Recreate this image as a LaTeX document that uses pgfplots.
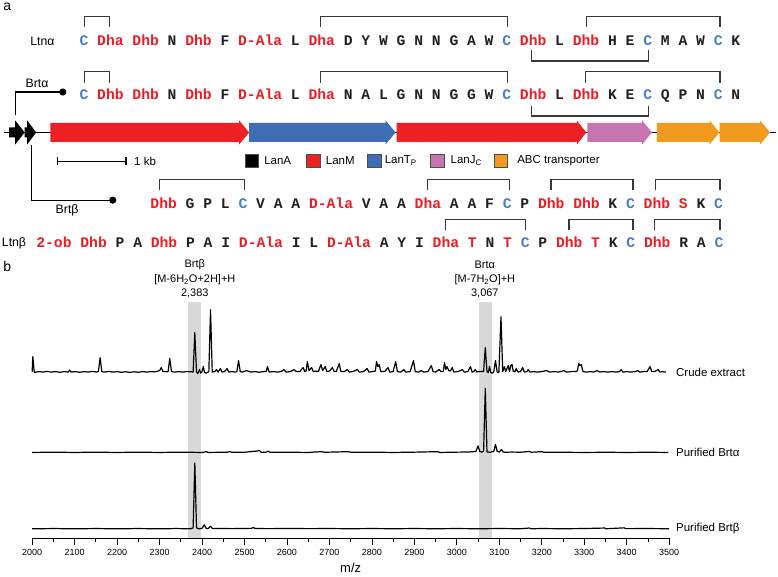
\documentclass[border=0pt]{standalone}
\usepackage{pgfplots}
\pgfplotsset{compat=1.18}
\usepackage{fontspec}
\setmainfont{Liberation Sans}
\setmonofont{Liberation Mono}
\definecolor{seqred}{HTML}{ED1C24}
\definecolor{seqblue}{HTML}{4A7CC9}
\definecolor{txt}{HTML}{231F20}
\definecolor{genered}{HTML}{ED2024}
\definecolor{geneblue}{HTML}{3F6DB5}
\definecolor{genepink}{HTML}{C675B1}
\definecolor{geneorange}{HTML}{F29A1E}
\definecolor{band}{HTML}{D9D9D9}
\newcommand{\rd}[1]{\textcolor{seqred}{#1}}
\newcommand{\bl}[1]{\textcolor{seqblue}{#1}}
\newcommand{\seqfont}{\fontsize{14.7}{16}\ttfamily\bfseries\color{txt}}
\newcommand{\lf}{\fontsize{11.5}{13.8}\selectfont}
\newcommand{\smf}{\fontsize{11}{13}\selectfont}
\newcommand{\nmf}{\fontsize{12.3}{14}\selectfont}
\tikzset{brk/.style={line width=1.25pt, color=black!78, line join=miter}}
\newcommand{\brk}[4]{\draw[brk] (axis cs:#1,#4) -- (axis cs:#1,#3) -- (axis cs:#2,#3) -- (axis cs:#2,#4);}
\begin{document}
\begin{tikzpicture}
\begin{axis}[hide axis, scale only axis, x=1pt, y=1pt, xmin=0, xmax=778, ymin=0, ymax=575,
  y dir=reverse, clip=false]
\path (rel axis cs:0,0) rectangle (rel axis cs:1,1);
\coordinate (bsw) at (axis cs:31,537);
% panel letters
\node[font=\fontsize{14}{16}\selectfont] at (axis cs:6,5) {a};
\node[font=\fontsize{14}{16}\selectfont] at (axis cs:6,265) {b};
% genome line
\draw[line width=1pt] (axis cs:3,130.5) -- (axis cs:776,130.5);
% genes
\addplot[fill=black, draw=none] coordinates {(8,125.5) (14,125.5) (14,118.5) (23.5,130.5) (14,142.5) (14,135.5) (8,135.5)} -- cycle;
\addplot[fill=black, draw=none] coordinates {(23.5,125.5) (26,125.5) (26,118.5) (35,130.5) (26,142.5) (26,135.5) (23.5,135.5)} -- cycle;
\addplot[fill=genered, draw=none] coordinates {(49.3,121) (238.3,121) (238.3,118.5) (248.3,130.5) (238.3,142.5) (238.3,140) (49.3,140)} -- cycle;
\addplot[fill=geneblue, draw=none] coordinates {(248.3,121) (385,121) (385,118.5) (395,130.5) (385,142.5) (385,140) (248.3,140)} -- cycle;
\addplot[fill=genered, draw=none] coordinates {(396,121) (576.5,121) (576.5,118.5) (586,130.5) (576.5,142.5) (576.5,140) (396,140)} -- cycle;
\addplot[fill=genepink, draw=none] coordinates {(587,121) (642,121) (642,118.5) (651.7,130.5) (642,142.5) (642,140) (587,140)} -- cycle;
\addplot[fill=geneorange, draw=none] coordinates {(656.7,121) (709.5,121) (709.5,118.5) (719.3,130.5) (709.5,142.5) (709.5,140) (656.7,140)} -- cycle;
\addplot[fill=geneorange, draw=none] coordinates {(719.5,121) (760,121) (760,118.5) (770,130.5) (760,142.5) (760,140) (719.5,140)} -- cycle;
% promoters
\draw[line width=1.1pt] (axis cs:14,113.5) -- (axis cs:14,90) -- (axis cs:61,90);
\fill (axis cs:61.7,90) circle (3.6pt);
\draw[line width=1.1pt] (axis cs:30,143.5) -- (axis cs:30,198.3) -- (axis cs:111,198.3);
\fill (axis cs:111.7,198.3) circle (3.6pt);
\node[font=\nmf] at (axis cs:35.8,81.5) {Brtα};
\node[font=\nmf] at (axis cs:66,208.5) {Brtβ};
\node[font=\nmf, anchor=west, inner sep=0pt] at (axis cs:29,39) {Ltnα};
\node[font=\nmf, anchor=west, inner sep=0pt] at (axis cs:0.5,241.7) {Ltnβ};
% scale bar
\draw[line width=1.1pt] (axis cs:56,159.3) -- (axis cs:125,159.3);
\draw[line width=1.1pt] (axis cs:56,155) -- (axis cs:56,163.5);
\draw[line width=1.1pt] (axis cs:125,155) -- (axis cs:125,163.5);
\node[font=\lf, anchor=west, inner sep=0pt] at (axis cs:133,159.3) {1 kb};
% legend
\filldraw[fill=black, draw=black!70, line width=0.6pt] (axis cs:244,152) rectangle (axis cs:257.3,165.3);
\filldraw[fill=genered, draw=black!70, line width=0.6pt] (axis cs:306,152) rectangle (axis cs:319.3,165.3);
\filldraw[fill=geneblue, draw=black!70, line width=0.6pt] (axis cs:367,152) rectangle (axis cs:380.3,165.3);
\filldraw[fill=genepink, draw=black!70, line width=0.6pt] (axis cs:430,152) rectangle (axis cs:443.3,165.3);
\filldraw[fill=geneorange, draw=black!70, line width=0.6pt] (axis cs:493.5,152) rectangle (axis cs:506.8,165.3);
\node[font=\lf, anchor=west, inner sep=0pt] at (axis cs:263.3,158.6) {LanA};
\node[font=\lf, anchor=west, inner sep=0pt] at (axis cs:325,158.6) {LanM};
\node[font=\lf, anchor=west, inner sep=0pt] at (axis cs:384,158.6) {LanT\textsubscript{P}};
\node[font=\lf, anchor=west, inner sep=0pt] at (axis cs:450,158.6) {LanJ\textsubscript{C}};
\node[font=\lf, anchor=west, inner sep=0pt] at (axis cs:516.7,158.6) {ABC transporter};
% sequences
\node[anchor=base west, inner sep=0pt, font=\seqfont] at (axis cs:78.3,43.2) {\bl{C} \rd{Dha} \rd{Dhb} N \rd{Dhb} F \rd{D-Ala} L \rd{Dha} D Y W G N N G A W \bl{C} \rd{Dhb} L \rd{Dhb} H E \bl{C} M A W \bl{C} K};
\node[anchor=base west, inner sep=0pt, font=\seqfont] at (axis cs:78.3,97.2) {\bl{C} \rd{Dhb} \rd{Dhb} N \rd{Dhb} F \rd{D-Ala} L \rd{Dha} N A L G N N G G W \bl{C} \rd{Dhb} L \rd{Dhb} K E \bl{C} Q P N \bl{C} N};
\node[anchor=base west, inner sep=0pt, font=\seqfont] at (axis cs:149.3,206.2) {\rd{Dhb} G P L \bl{C} V A A \rd{D-Ala} V A A \rd{Dha} A A F \bl{C} P \rd{Dhb} \rd{Dhb} K \bl{C} \rd{Dhb} \rd{S} K \bl{C}};
\node[anchor=base west, inner sep=0pt, font=\seqfont] at (axis cs:35,245.9) {\rd{2-ob} \rd{Dhb} P A \rd{Dhb} P A I \rd{D-Ala} I L \rd{D-Ala} A Y I \rd{Dha} \rd{T} N \rd{T} \bl{C} P \rd{Dhb} \rd{T} K \bl{C} \rd{Dhb} R A \bl{C}};
% brackets row 1
\brk{83.3}{108.3}{14}{25}
\brk{320}{506.7}{14}{25}
\brk{586}{720}{14}{25}
\brk{531}{648.3}{59}{48}
% brackets row 2
\brk{83.3}{108.3}{69.7}{80.5}
\brk{320}{506.7}{69.7}{80.5}
\brk{585}{720}{69.7}{80.5}
\brk{531}{648.3}{114}{104}
% brackets row 3
\brk{158.3}{243.3}{177.3}{188.3}
\brk{426.7}{509.3}{177.3}{188.3}
\brk{550.7}{632.7}{177.3}{188.3}
\brk{655.3}{720}{177.3}{188.3}
% brackets row 4
\brk{445}{525}{217.3}{228.3}
\brk{568.7}{632.7}{217.3}{228.3}
\brk{654.3}{720}{217.3}{228.3}
\end{axis}

\begin{axis}[at={(bsw)}, anchor=south west, scale only axis,
  x=0.42533pt, y=1pt, xmin=2000, xmax=3500, ymin=0, ymax=237,
  axis x line=bottom, axis y line=none, clip=false,
  x axis line style={-, line width=0.9pt},
  xtick={2000,2100,...,3500}, minor xtick={2050,2150,...,3450},
  tick align=outside, major tick length=7pt, minor tick length=3.5pt,
  tick style={black, line width=0.8pt}, ytick=\empty,
  xticklabel style={font=\fontsize{9}{10}\selectfont},
  /pgf/number format/1000 sep={},
  /pgf/number format/assume math mode=true]
\addplot[fill=band, draw=none] coordinates {(2368,0) (2398,0) (2398,237) (2368,237)} -- cycle;
\addplot[fill=band, draw=none] coordinates {(3053,0) (3082,0) (3082,237) (3053,237)} -- cycle;
% crude extract
\addplot[black, line width=1.2pt, line join=round] table[y expr=\thisrowno{1}+166] {
2000 1
2001.5 16
2005 0
2015 1
2025 0.5
2035 1.2
2045 0.5
2055 1
2065 0.3
2075 1
2085 0.5
2088 2.5
2092 0.5
2102 1
2112 0.3
2122 1
2132 0.5
2142 1.2
2152 0.5
2156 1
2160 15
2164 1
2170 0.5
2180 1.2
2190 0.5
2200 1
2210 0.3
2220 0.8
2230 0.2
2240 0.8
2250 0.3
2260 1
2270 0.5
2280 1
2290 0.8
2300 2
2304 5
2308 1
2312 1
2320 0.8
2324 14
2328 1
2335 0.5
2345 1
2355 0.5
2365 1
2375 0.8
2379 0.5
2383 40
2387 0.5
2390 -1
2394 3
2397 -0.5
2400 1
2403 6
2406 0
2410 -0.5
2416 1
2420 63
2424 0.5
2430 1
2434 3
2438 0.5
2443 4
2447 0.5
2453 1
2459 4
2463 0.5
2470 1
2478 0.5
2482 1
2486 12
2490 1
2495 0.5
2505 2
2515 0.5
2525 1
2535 0.3
2545 1
2551 1
2554 6
2558 0.5
2568 1
2578 0.5
2586 1
2593 3
2598 0.5
2608 1
2617 3
2622 1
2630 1
2638 5
2642 1
2645 1.5
2648 11
2652 2
2658 5
2662 1
2668 1.5
2674 1
2680 8
2684 2
2690 6
2694 1
2700 1.5
2707 5
2711 1
2716 1
2723 9
2727 1
2735 1
2742 3
2747 0.5
2755 1
2766 3
2770 0.5
2780 1
2789 4
2793 0.5
2800 1
2808 1.5
2811 11
2814 6
2817 8
2821 1
2830 1
2838 5
2842 0.5
2850 1
2856 11
2860 1
2868 0.5
2875 3
2880 0.5
2890 1
2898 12
2902 1
2910 0.5
2916 2
2922 0.5
2932 1
2940 7
2944 1
2950 0.5
2958 3
2963 1
2968 1
2971 10
2974 3
2977 6
2981 2
2985 1.5
2989 5
2993 0.5
3003 1
3013 3
3018 0.5
3026 1
3032 6
3036 0.5
3040 1
3043 3
3047 0.5
3050 1
3063 1
3067 25
3071 1
3074 0
3077 6
3080 0
3084 -0.5
3087 1
3091 12
3095 0.5
3099 0
3104 56
3108 1
3112 6
3115 1
3118 4
3121 7
3124 1
3127 7
3130 8
3133 1
3137 1
3140 4
3144 0.5
3150 1
3155 5
3159 0.5
3165 1
3168 3
3172 0.5
3180 1
3190 0.5
3200 1
3212 2
3218 0.5
3230 1
3240 0.5
3252 2
3258 0.5
3270 1
3280 1
3284 2
3287 9
3290 7
3293 8
3297 1
3305 0.5
3315 1
3322 0.5
3330 2
3336 0.5
3345 1
3355 0.5
3365 1
3375 0.5
3383 1
3387 3
3391 0.5
3400 1
3410 0.5
3420 1
3426 2
3431 0.5
3440 1
3448 1
3455 6
3459 1
3466 1
3474 3
3478 0.5
3485 1
3492 0.5
};
% purified Brt alpha
\addplot[black, line width=1.2pt, line join=round] table[y expr=\thisrowno{1}+86] {
2000 0
2050 0.3
2100 0
2150 0.3
2200 0
2250 0.3
2300 0
2350 0.3
2400 0
2410 0.8
2415 0
2460 0.3
2465 1
2470 0.2
2500 0.2
2531 1.5
2535 2
2539 0.2
2550 0.3
2556 1.2
2560 0.2
2600 0.3
2650 0
2680 0.8
2690 0.2
2745 0.8
2750 0.2
2800 0.3
2850 0
2900 0.3
2955 0.8
2960 0
3000 0.3
3030 0.5
3045 1
3050 6.5
3054 1
3058 0.5
3063 1
3067 64
3071 0.5
3078 0.2
3087 1
3091 8
3095 1
3100 0.5
3105 3
3109 0.5
3114 0.2
3130 0.4
3150 0.2
3170 1
3175 0.2
3200 0.8
3205 0.2
3250 0.2
3300 0
3350 0.2
3400 0
3450 0.2
3498 0
};
% purified Brt beta
\addplot[black, line width=1.2pt, line join=round] table[y expr=\thisrowno{1}+9.5] {
2000 0
2050 0.3
2100 0
2150 0.3
2200 0
2250 0.3
2300 0
2340 0.3
2372 0
2379 1
2383 66
2387 1
2393 0
2400 0.5
2405 4
2410 0.3
2415 0.5
2420 2.5
2425 0.2
2440 0.4
2470 0.2
2500 0.4
2517 0.5
2521 1.5
2525 0.3
2560 0.2
2600 0.4
2650 0.2
2700 0.3
2750 0.1
2800 0.3
2850 0.1
2900 0.3
2950 0.1
3000 0.3
3050 0.1
3100 0.3
3150 0.1
3170 0.8
3175 0.1
3200 0.3
3250 0.1
3300 0.3
3348 0.8
3352 0.1
3394 1
3398 0.2
3450 0.3
3500 0.1
};
% labels
\node[font=\smf] at (axis cs:2383,274) {Brtβ};
\node[font=\smf] at (axis cs:2383,259) {[M-6H\textsubscript{2}O+2H]+H};
\node[font=\smf] at (axis cs:3066,274) {Brtα};
\node[font=\smf] at (axis cs:3066,259) {[M-7H\textsubscript{2}O]+H};
\node[font=\smf] at (axis cs:2383,245) {2,383};
\node[font=\smf] at (axis cs:3066,245) {3,067};
\node[font=\lf, anchor=west, inner sep=0pt] at (axis cs:3516,166) {Crude extract};
\node[font=\lf, anchor=west, inner sep=0pt] at (axis cs:3516,86) {Purified Brtα};
\node[font=\lf, anchor=west, inner sep=0pt] at (axis cs:3516,9.5) {Purified Brtβ};
\node[font=\fontsize{13}{15}\selectfont] at (axis cs:2750,-30) {m/z};
\end{axis}
\end{tikzpicture}
\end{document}
